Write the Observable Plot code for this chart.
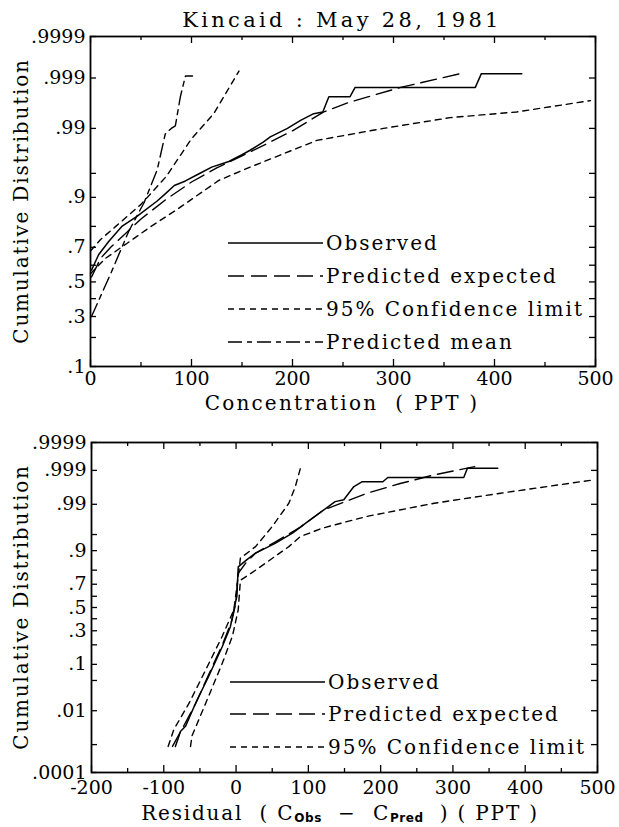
<!DOCTYPE html>
<html><head><meta charset="utf-8">
<script src="https://cdn.jsdelivr.net/npm/d3@7"></script>
<script src="https://cdn.jsdelivr.net/npm/@observablehq/plot@0.6"></script>
<style>
body{margin:0;background:#fff;}
#chart{width:619px;height:827px;position:relative;background:#fff;}
#chart svg{display:block;}
</style></head><body><div id="chart"></div>
<script>
// ---------- Tick definitions ----------
const title = "Kincaid : May 28, 1981";
const yTitle = "Cumulative Distribution";
const topXTitle = "Concentration  ( PPT )";
const topXMajor = [0,100,200,300,400,500];
const topXLabels = ["0","100","200","300","400","500"];
const topXMinor = [50,150,250,350,450];
const topYMajor = [".1",".3",".5",".7",".9",".99",".999",".9999"];
const topYMinor = [".2",".4",".6",".8",".95"];
const botXMajor = [-200,-100,0,100,200,300,400,500];
const botXLabels = ["-200","-100","0","100","200","300","400","500"];
const botXMinor = [-150,-50,50,150,250,350,450];
const botYMajor = [".0001",".01",".1",".3",".5",".7",".9",".99",".999",".9999"];
const botYMinor = [".001",".05",".2",".4",".6",".8",".95"];
const legendTop = ["Observed","Predicted expected","95% Confidence limit","Predicted mean"];
const legendBot = ["Observed","Predicted expected","95% Confidence limit"];

// ---------- Top panel data (concentration PPT, cumulative probability) ----------
const topObsX = [1,8,18,31,46,66,74,83,94,107,120,137,150,158,171,178,195,208,221,230,236,257,262,381,387,427];
const topObsP = [.57,.66,.73,.80,.84,.89,.909,.928,.937,.949,.959,.966,.973,.977,.983,.986,.990,.9928,.9946,.9950,.9975,.9975,.9984,.9984,.9992,.9992];
const topExpX = [1,10,20,35,50,75,100,125,150,175,200,231,257,307,366];
const topExpP = [.53,.64,.70,.77,.83,.895,.935,.958,.972,.982,.989,.995,.9968,.9984,.9992];
const topUpX = [0,10,25,50,75,100,122,147];
const topUpP = [.68,.74,.80,.88,.945,.985,.9946,.9993];
const topLoX = [0,15,36,60,84,127,158,224,290,356,422,495];
const topLoP = [.55,.64,.72,.80,.86,.938,.959,.984,.990,.9936,.995,.997];
const topMeanX = [1,20,38,53,66,74,80,84,89,94,101];
const topMeanP = [.30,.55,.78,.885,.955,.9875,.990,.991,.9975,.9991,.9991];

// ---------- Bottom panel data (residual PPT, cumulative probability) ----------
const botObsX = [-84,-80,-77,-70,-56,-38,-19,-8,-1,1,3,15,27,54,78,101,119,137,149,163,170,174,203,210,315,320,362];
const botObsP = [.00087,.0016,.0026,.0037,.0155,.06,.19,.33,.54,.60,.82,.86,.89,.926,.953,.975,.985,.9915,.9924,.9968,.9974,.9977,.9977,.9983,.9983,.99915,.99915];
const botExpX = [-88,-75,-56,-38,-19,-6,0,3,15,27,54,89,121,181,227,274,330];
const botExpP = [.00087,.003,.015,.065,.20,.38,.55,.78,.85,.89,.93,.965,.986,.995,.9974,.9986,.99925];
const botUpX = [-94,-86,-65,-42,-19,-3,4,6,27,50,73,82,89];
const botUpP = [.00087,.003,.0155,.08,.26,.48,.80,.867,.915,.966,.9906,.9968,.99915];
const botLoX = [-63,-61,-42,-19,-5,3,6,27,73,89,119,181,274,366,495];
const botLoP = [.00087,.0019,.0155,.105,.26,.48,.73,.80,.915,.945,.963,.98,.9906,.995,.998];

// ---------- Styles ----------
const styles = {
  observed: {dash: null, w: 1.5},
  expected: {dash: "16,7", w: 1.4},
  ci: {dash: "6,5", w: 1.4},
  mean: {dash: "14,5,5,5", w: 1.4}
};
const FONT = "DejaVu Serif";

// Inverse standard normal CDF (normal probability paper scale)
function probit(p) {
  const a=[-3.969683028665376e+01,2.209460984245205e+02,-2.759285104469687e+02,1.383577518672690e+02,-3.066479806614716e+01,2.506628277459239e+00];
  const b=[-5.447609879822406e+01,1.615858368580409e+02,-1.556989798598866e+02,6.680131188771972e+01,-1.328068155288572e+01];
  const c=[-7.784894002430293e-03,-3.223964580411365e-01,-2.400758277161838e+00,-2.549671010229528e+00,4.374664141464968e+00,2.938163982698783e+00];
  const d=[7.784695709041462e-03,3.224671290700398e-01,2.445134137142996e+00,3.754408661907416e+00];
  const plow=0.02425, phigh=1-plow;
  let q, r;
  if (p < plow) {
    q = Math.sqrt(-2*Math.log(p));
    return (((((c[0]*q+c[1])*q+c[2])*q+c[3])*q+c[4])*q+c[5])/((((d[0]*q+d[1])*q+d[2])*q+d[3])*q+1);
  } else if (p <= phigh) {
    q = p-0.5; r = q*q;
    return (((((a[0]*r+a[1])*r+a[2])*r+a[3])*r+a[4])*r+a[5])*q/(((((b[0]*r+b[1])*r+b[2])*r+b[3])*r+b[4])*r+1);
  } else {
    q = Math.sqrt(-2*Math.log(1-p));
    return -(((((c[0]*q+c[1])*q+c[2])*q+c[3])*q+c[4])*q+c[5])/((((d[0]*q+d[1])*q+d[2])*q+d[3])*q+1);
  }
}

function panel(cfg) {
  const {width=619, height, mt, mb, ml, mr, xDomain, series, xMajor, xLabels, xMinor, yMajor, yMinor} = cfg;
  const fw = width-ml-mr, fh = height-mt-mb;
  const yVals = yMajor.map(s => +s);
  const pDomain = [d3.min(yVals), d3.max(yVals)];
  const marks = [];
  for (const s of series) {
    const st = styles[s.style];
    const data = s.x.map((x,i) => ({x, z: probit(s.p[i])}));
    marks.push(Plot.line(data, {x: "x", y: "z", stroke: "#000", strokeWidth: st.w, strokeDasharray: st.dash, strokeLinejoin: "round"}));
  }
  const allY = yMajor.concat(yMinor).map(s => probit(+s));
  const tickStyle = {stroke: "#000", strokeWidth: 1.3};
  marks.push(
    Plot.tickX(xMajor, {x: d => d, insetTop: fh-7, ...tickStyle}),
    Plot.tickX(xMajor, {x: d => d, insetBottom: fh-7, ...tickStyle}),
    Plot.tickX(xMinor, {x: d => d, insetTop: fh-4, ...tickStyle}),
    Plot.tickX(xMinor, {x: d => d, insetBottom: fh-4, ...tickStyle}),
    Plot.tickY(allY, {y: d => d, insetRight: fw-6, ...tickStyle}),
    Plot.tickY(allY, {y: d => d, insetLeft: fw-6, ...tickStyle}),
    Plot.frame({stroke: "#000", strokeWidth: 1.8}),
    Plot.text(xMajor.map((v,i) => ({v, label: xLabels[i]})), {x: "v", text: "label", frameAnchor: "bottom", lineAnchor: "top", dy: cfg.xdy, fontSize: 19, fontFamily: FONT, fill: "#000", ariaLabel: "xtick"}),
    Plot.text(yMajor.map(s => ({z: probit(+s), label: s})), {y: "z", text: "label", frameAnchor: "left", textAnchor: "end", dx: -5, fontSize: 19, fontFamily: FONT, fill: "#000", ariaLabel: "ytick"})
  );
  const svg = Plot.plot({
    width, height, marginTop: mt, marginBottom: mb, marginLeft: ml, marginRight: mr,
    style: {fontFamily: FONT, fontSize: "20px", background: "#fff", overflow: "visible", color: "#000"},
    x: {domain: xDomain, axis: null, nice: false},
    y: {domain: [probit(pDomain[0]), probit(pDomain[1])], axis: null},
    marks
  });
  d3.select(svg).selectAll('g[aria-label="ytick"] text').style("letter-spacing", "3.3px");
  d3.select(svg).selectAll('g[aria-label="xtick"] text').style("letter-spacing", "1.2px");
  return svg;
}

const topSvg = panel({
  height: 410, mt: 36, mb: 44, ml: 90, mr: 24, xDomain: [0,500], xdy: 5,
  series: [
    {x: topObsX, p: topObsP, style: "observed"},
    {x: topExpX, p: topExpP, style: "expected"},
    {x: topUpX, p: topUpP, style: "ci"},
    {x: topLoX, p: topLoP, style: "ci"},
    {x: topMeanX, p: topMeanP, style: "mean"}
  ],
  xMajor: topXMajor, xLabels: topXLabels, xMinor: topXMinor, yMajor: topYMajor, yMinor: topYMinor
});
const botSvg = panel({
  height: 417, mt: 32, mb: 55, ml: 91, mr: 22, xDomain: [-200,500], xdy: 8,
  series: [
    {x: botObsX, p: botObsP, style: "observed"},
    {x: botExpX, p: botExpP, style: "expected"},
    {x: botUpX, p: botUpP, style: "ci"},
    {x: botLoX, p: botLoP, style: "ci"}
  ],
  xMajor: botXMajor, xLabels: botXLabels, xMinor: botXMinor, yMajor: botYMajor, yMinor: botYMinor
});
const chart = document.getElementById("chart");
chart.append(topSvg, botSvg);

// ---------- Decorations: titles and legends ----------
function addText(svg, txt, x, y, opts = {}) {
  const t = d3.select(svg).append("text")
    .attr("x", x).attr("y", y)
    .attr("font-family", FONT).attr("font-size", opts.size || 20)
    .attr("fill", "#000")
    .attr("text-anchor", opts.anchor || "middle")
    .attr("dominant-baseline", "central")
    .style("letter-spacing", (opts.ls ?? 1.8) + "px")
    .style("white-space", "pre")
    .text(txt);
  if (opts.rotate) t.attr("transform", `rotate(${opts.rotate},${x},${y})`);
  return t;
}
function legend(svg, names, keys, x1, x2, ys) {
  const g = d3.select(svg).append("g");
  names.forEach((n, i) => {
    const st = styles[keys[i]];
    g.append("line").attr("x1", x1).attr("x2", x2).attr("y1", ys[i]).attr("y2", ys[i])
      .attr("stroke", "#000").attr("stroke-width", st.w).attr("stroke-dasharray", st.dash);
    addText(svg, n, x2 + 3, ys[i], {anchor: "start", ls: 2});
  });
}
addText(topSvg, title, 342, 20, {size: 21, ls: 3.3});
addText(topSvg, yTitle, 21, 201, {rotate: -90});
addText(topSvg, topXTitle, 342, 403, {ls: 2.2});
legend(topSvg, legendTop, ["observed","expected","ci","mean"], 228, 323, [243,276,309,342]);

addText(botSvg, yTitle, 21, 197, {rotate: -90});
legend(botSvg, legendBot, ["observed","expected","ci"], 230, 325, [272,304,337]);
// Bottom x title with subscripts
{
  const t = d3.select(botSvg).append("text")
    .attr("x", 340).attr("y", 403)
    .attr("font-family", FONT).attr("font-size", 20).attr("fill", "#000")
    .attr("text-anchor", "middle").attr("dominant-baseline", "central")
    .style("letter-spacing", "1.8px").style("white-space", "pre");
  t.append("tspan").text("Residual  ( C");
  t.append("tspan").attr("dy", 5).attr("font-family", "DejaVu Sans").attr("font-weight", "bold").attr("font-size", 12).style("letter-spacing", "0.5px").text("Obs");
  t.append("tspan").attr("dy", -5).text("  −  C");
  t.append("tspan").attr("dy", 5).attr("font-family", "DejaVu Sans").attr("font-weight", "bold").attr("font-size", 12).style("letter-spacing", "0.5px").text("Pred");
  t.append("tspan").attr("dy", -5).text("  ) ( PPT )");
}
</script>
</body></html>
